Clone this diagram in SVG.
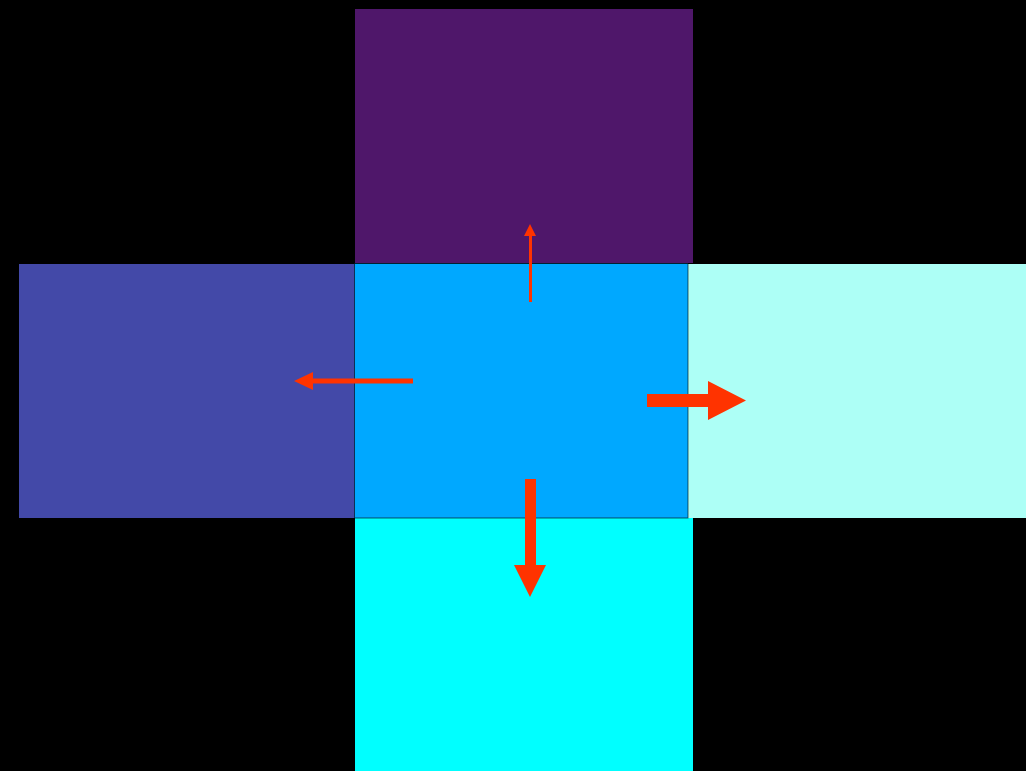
<svg xmlns="http://www.w3.org/2000/svg" width="1026" height="771" viewBox="0 0 1026 771">
<style>
.arrow{fill:#ff3300}
.edge{stroke:#000;stroke-opacity:0.6;stroke-width:1}
</style>
<rect x="0" y="0" width="1026" height="771" fill="#000"/>
<g id="top"><rect x="355" y="9" width="338" height="254" fill="#4f176a"/></g>
<g id="left"><rect x="19" y="264" width="336" height="254" fill="#4349a8"/></g>
<g id="right"><rect x="688" y="264" width="338" height="254" fill="#adfff6"/></g>
<g id="bottom"><rect x="355" y="518" width="338" height="253" fill="#00ffff"/></g>
<g id="center"><rect x="354.5" y="263.5" width="333.5" height="254.5" fill="#00a8ff" class="edge"/></g>
<g id="connectors">
<path class="arrow" d="M529 302 V236 H524 L530 224 L536 236 H532 V302 Z"/>
<path class="arrow" d="M413 378.5 V383.5 H313 V390 L294 381 L313 372 V378.5 Z"/>
<path class="arrow" d="M647 394 H708 V381 L746 400.5 L708 420 V407 H647 Z"/>
<path class="arrow" d="M525 479 H536 V565 H546 L530 597 L514 565 H525 Z"/>
</g>
</svg>
